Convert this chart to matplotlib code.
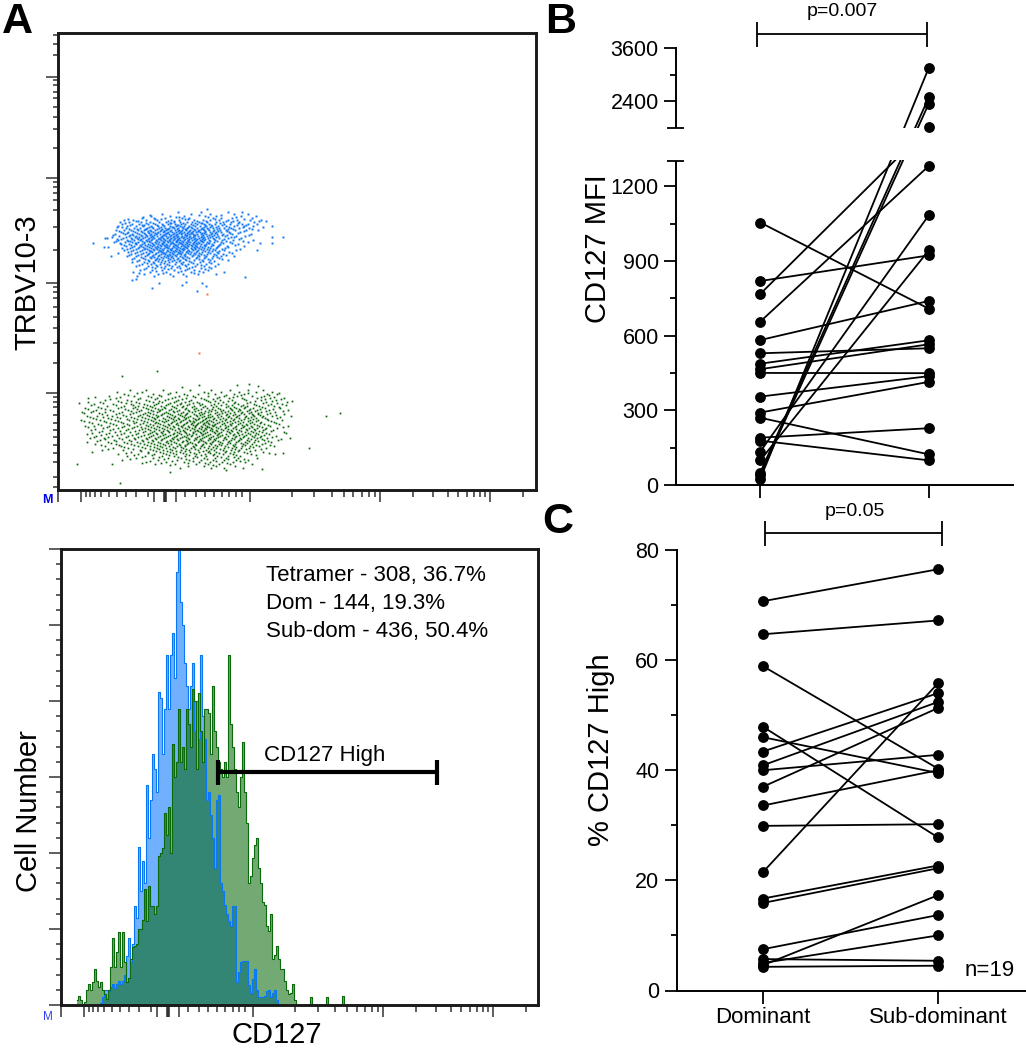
import numpy as np
import matplotlib
matplotlib.use('Agg')
import matplotlib.pyplot as plt
from matplotlib.lines import Line2D

plt.rcParams['font.family'] = ['Liberation Sans', 'DejaVu Sans']

W, H = 1026, 1050

# flow plot, cells: {y channel: [x channels]}
blue_rows = {
    278: [120, 143, 170],
    276: [104, 133, 152, 176, 190],
    275: [92, 141, 163],
    274: [93, 112, 126, 147, 158, 183, 198],
    273: [85, 118, 121, 150, 178],
    272: [84, 96, 107, 124, 131, 155, 163, 174, 194],
    271: [70, 97, 103, 127, 130, 157, 186],
    270: [66, 75, 88, 99, 113, 121, 136, 145, 152, 161, 170, 179, 192, 203],
    269: [78, 80, 110, 116, 139, 148, 168, 175, 201],
    268: [62, 71, 83, 92, 101, 108, 116, 122, 129, 134, 141, 149, 158, 165, 173, 181, 196],
    267: [67, 88, 95, 112, 113, 125, 137, 143, 144, 162, 180],
    266: [64, 74, 81, 90, 97, 104, 110, 117, 123, 127, 133, 139, 146, 151, 157, 166, 172, 184, 190, 199],
    265: [72, 84, 86, 99, 105, 119, 120, 135, 147, 153, 164, 179, 188],
    264: [60, 69, 78, 85, 93, 100, 106, 112, 118, 122, 126, 131, 137, 142, 148, 154, 160, 168, 176, 186, 195],
    263: [59, 64, 91, 94, 103, 114, 115, 124, 130, 133, 146, 152, 158, 171, 185],
    262: [68, 76, 82, 89, 95, 101, 107, 111, 116, 120, 125, 129, 134, 139, 144, 149, 155, 161, 166, 173, 181, 191],
    261: [71, 79, 87, 88, 99, 104, 109, 110, 119, 127, 128, 136, 143, 145, 150, 159, 170, 175, 194],
    260: [58, 66, 73, 80, 86, 92, 97, 103, 108, 113, 117, 121, 124, 128, 132, 137, 141, 146, 151, 156, 162, 168, 177, 188, 200],
    259: [61, 75, 83, 90, 93, 102, 106, 106, 112, 120, 123, 131, 135, 140, 140, 147, 155, 160, 169, 186],
    258: [63, 70, 77, 84, 90, 95, 100, 105, 110, 114, 118, 122, 126, 130, 134, 138, 142, 147, 152, 158, 163, 171, 182],
    257: [65, 69, 79, 86, 91, 97, 99, 108, 109, 116, 121, 124, 129, 133, 133, 144, 146, 154, 157, 172, 180],
    256: [57, 67, 74, 81, 87, 93, 98, 102, 107, 111, 115, 119, 123, 127, 131, 135, 139, 143, 148, 153, 159, 165, 174, 193],
    255: [55, 72, 75, 83, 88, 92, 96, 105, 106, 113, 118, 118, 127, 129, 136, 137, 145, 151, 156, 164, 169, 191],
    254: [61, 71, 78, 84, 89, 94, 99, 104, 108, 112, 116, 120, 124, 128, 132, 136, 140, 144, 149, 154, 160, 167, 178, 187],
    253: [68, 77, 81, 87, 93, 95, 103, 103, 110, 115, 119, 123, 126, 131, 135, 143, 146, 152, 158, 173, 176],
    252: [65, 73, 79, 85, 91, 96, 101, 105, 109, 113, 117, 121, 125, 129, 133, 137, 141, 145, 150, 155, 161, 170, 183],
    251: [59, 63, 74, 80, 83, 90, 94, 100, 102, 106, 112, 116, 120, 120, 127, 131, 136, 139, 144, 147, 156, 166, 181],
    250: [60, 69, 76, 82, 88, 93, 98, 103, 107, 111, 115, 119, 122, 126, 130, 134, 138, 142, 146, 151, 157, 164, 175, 195],
    249: [70, 72, 84, 89, 91, 99, 105, 109, 112, 118, 119, 124, 130, 130, 137, 143, 144, 152, 159, 168, 185],
    248: [67, 74, 80, 86, 92, 97, 101, 106, 110, 114, 118, 121, 125, 128, 132, 136, 140, 145, 149, 156, 163, 172, 190],
    247: [62, 77, 78, 86, 94, 98, 104, 105, 113, 115, 122, 123, 129, 135, 138, 141, 150, 151, 165, 174],
    246: [63, 71, 78, 84, 90, 95, 100, 104, 108, 112, 116, 120, 124, 127, 131, 135, 139, 143, 148, 154, 162, 180],
    245: [66, 73, 82, 87, 92, 96, 102, 106, 109, 117, 118, 125, 129, 133, 137, 146, 147, 155, 161, 177],
    244: [68, 76, 83, 89, 94, 99, 103, 107, 111, 115, 119, 123, 126, 130, 134, 138, 142, 147, 153, 160, 169, 186],
    243: [74, 81, 85, 91, 97, 100, 108, 109, 116, 120, 127, 128, 136, 139, 144, 150, 159, 170],
    242: [72, 80, 87, 93, 98, 102, 106, 110, 114, 118, 122, 125, 129, 133, 137, 141, 146, 152, 158, 167],
    241: [69, 78, 86, 89, 95, 99, 104, 112, 113, 119, 124, 126, 134, 137, 143, 149, 155, 164, 182],
    240: [66, 75, 84, 91, 96, 101, 105, 109, 113, 117, 121, 125, 130, 135, 140, 145, 151, 157, 166, 178],
    239: [73, 82, 92, 93, 102, 103, 110, 115, 118, 122, 129, 131, 139, 147, 154, 161],
    238: [70, 79, 88, 94, 100, 104, 108, 112, 116, 120, 124, 128, 133, 138, 144, 150, 159, 171],
    237: [77, 85, 91, 98, 105, 106, 114, 121, 122, 130, 136, 141, 152, 160, 174],
    236: [73, 83, 90, 97, 103, 107, 111, 115, 119, 123, 127, 132, 137, 143, 149, 156, 165],
    235: [71, 80, 89, 95, 101, 109, 112, 117, 126, 135, 140, 146, 158, 168],
    234: [69, 78, 87, 94, 100, 106, 110, 114, 118, 122, 127, 134, 141, 148, 155, 163, 176],
    233: [83, 92, 96, 103, 108, 113, 124, 129, 139, 147, 159],
    232: [76, 85, 93, 99, 105, 110, 115, 120, 125, 131, 138, 146, 154, 161],
    231: [74, 87, 98, 101, 112, 119, 127, 141, 150, 164],
    230: [81, 90, 97, 104, 110, 116, 122, 128, 136, 144, 152, 170],
    229: [79, 91, 100, 107, 114, 121, 131, 145, 156],
    228: [74, 86, 95, 103, 111, 118, 125, 133, 142, 151],
    227: [89, 96, 106, 123, 135, 153],
    226: [84, 93, 102, 109, 117, 124, 130, 139, 148, 160],
    225: [81, 98, 111, 127, 143],
    224: [78, 90, 99, 107, 114, 121, 128, 137, 146, 157],
    223: [94, 103, 119, 134, 151],
    222: [88, 97, 106, 113, 122, 131, 143, 153],
    221: [86, 110, 129, 147],
    220: [82, 94, 104, 116, 127, 136, 150],
    219: [98, 123, 141],
    218: [75, 92, 108, 120, 133, 145, 166],
    217: [81, 105, 136],
    216: [86, 100, 112, 125, 140, 158],
    214: [79, 96, 115, 128],
}
blue_out_x = [35, 47, 49, 54, 46, 50, 53, 56, 58, 60, 64, 225, 214, 214, 208, 214, 205, 202, 199, 187, 184, 149, 74, 78, 94, 101, 124, 128, 139, 144, 148]
blue_out_y = [247, 252, 252, 253, 243, 243, 234, 248, 249, 237, 242, 253, 253, 247, 269, 264, 263, 247, 240, 213, 278, 281, 210, 211, 202, 207, 205, 208, 199, 207, 204]

green_rows = {
    100: [72, 105, 132, 153, 172, 190, 205],
    98: [84, 118, 146, 163, 181, 198, 214],
    97: [79, 112, 150, 190],
    96: [66, 95, 110, 126, 140, 157, 176, 186, 209, 219],
    95: [70, 101, 129, 168, 183, 211],
    94: [76, 90, 103, 121, 135, 150, 166, 179, 194, 206],
    93: [62, 93, 117, 137, 161, 175, 203, 216],
    92: [58, 82, 99, 114, 128, 143, 159, 171, 184, 199, 212, 226],
    91: [52, 80, 97, 110, 124, 146, 155, 186, 207, 223],
    90: [47, 69, 88, 107, 120, 133, 148, 162, 174, 188, 203, 218],
    89: [60, 73, 91, 101, 118, 131, 150, 157, 170, 197, 214],
    88: [42, 63, 78, 95, 104, 116, 127, 139, 152, 165, 177, 192, 208, 229],
    87: [45, 68, 81, 100, 112, 123, 135, 141, 160, 176, 189, 205, 219],
    86: [36, 55, 73, 86, 98, 110, 122, 131, 144, 156, 168, 180, 196, 213, 224],
    85: [33, 58, 75, 89, 96, 108, 119, 129, 142, 153, 163, 174, 185, 198, 210, 228],
    84: [49, 66, 80, 92, 103, 114, 125, 136, 147, 158, 170, 183, 189, 201, 216],
    83: [40, 63, 77, 85, 94, 106, 116, 124, 134, 145, 155, 168, 176, 187, 204, 221],
    82: [27, 43, 60, 75, 88, 97, 107, 118, 128, 138, 149, 160, 172, 178, 186, 195, 207, 222],
    81: [30, 47, 67, 79, 90, 100, 104, 113, 127, 136, 143, 154, 162, 173, 181, 192, 202, 215],
    80: [38, 52, 70, 83, 93, 102, 111, 121, 130, 140, 151, 157, 165, 174, 182, 191, 199, 211, 230],
    79: [35, 55, 73, 81, 95, 101, 115, 119, 131, 137, 147, 153, 163, 170, 180, 189, 197, 208, 225],
    78: [24, 33, 47, 64, 78, 90, 99, 108, 116, 125, 134, 143, 150, 159, 167, 176, 184, 193, 203, 217],
    77: [26, 41, 61, 75, 87, 92, 106, 110, 123, 129, 141, 146, 157, 164, 172, 183, 191, 200, 212],
    76: [44, 58, 72, 85, 95, 104, 112, 120, 128, 136, 144, 152, 161, 169, 177, 186, 194, 200, 209, 226],
    75: [49, 65, 82, 89, 98, 103, 114, 122, 127, 138, 142, 150, 159, 168, 175, 181, 195, 202, 218],
    74: [29, 39, 54, 68, 80, 91, 100, 109, 117, 124, 132, 139, 146, 154, 163, 171, 179, 188, 196, 205, 214, 233],
    73: [32, 45, 59, 73, 84, 94, 99, 111, 116, 126, 130, 144, 150, 152, 160, 170, 178, 187, 193, 204, 222],
    72: [35, 50, 62, 76, 87, 96, 105, 113, 120, 128, 135, 141, 148, 156, 165, 173, 181, 190, 198, 207, 219],
    71: [38, 53, 69, 79, 90, 97, 107, 115, 121, 127, 137, 140, 147, 155, 162, 168, 176, 186, 195, 209],
    70: [23, 42, 57, 71, 83, 93, 101, 110, 118, 125, 131, 138, 145, 151, 158, 167, 175, 183, 192, 200, 210, 224],
    69: [26, 46, 60, 75, 86, 95, 104, 108, 116, 123, 132, 135, 144, 149, 153, 164, 172, 180, 190, 198, 213],
    68: [31, 48, 63, 78, 89, 98, 106, 114, 122, 129, 136, 142, 148, 155, 161, 169, 177, 185, 194, 203, 216],
    67: [34, 52, 65, 76, 85, 97, 100, 113, 119, 128, 134, 140, 146, 150, 159, 166, 174, 182, 192, 202, 218],
    66: [40, 55, 69, 82, 92, 102, 110, 118, 126, 133, 139, 145, 151, 157, 164, 172, 180, 188, 196, 206, 221],
    65: [43, 58, 71, 88, 95, 105, 111, 120, 125, 135, 138, 147, 154, 156, 167, 173, 184, 189, 199, 210],
    64: [27, 36, 51, 66, 79, 90, 99, 107, 115, 123, 130, 137, 143, 149, 155, 162, 170, 178, 186, 193, 201, 212, 230],
    63: [30, 49, 64, 76, 83, 93, 101, 109, 116, 124, 131, 137, 144, 149, 151, 158, 168, 177, 185, 194, 204, 225],
    62: [45, 60, 74, 87, 96, 104, 112, 120, 127, 134, 141, 147, 153, 160, 167, 175, 183, 191, 199, 208, 219],
    61: [37, 55, 70, 84, 90, 98, 106, 114, 121, 129, 136, 143, 148, 154, 163, 170, 178, 188, 196, 207],
    60: [33, 52, 68, 81, 92, 101, 109, 117, 125, 132, 139, 146, 152, 158, 165, 173, 181, 189, 197, 205, 215],
    59: [44, 62, 77, 87, 96, 105, 110, 122, 126, 137, 140, 145, 154, 159, 169, 174, 183, 193, 201, 213],
    58: [41, 57, 72, 85, 94, 103, 111, 119, 127, 135, 142, 149, 156, 163, 171, 179, 187, 195, 204, 226],
    57: [34, 51, 66, 80, 92, 98, 104, 116, 121, 128, 135, 143, 147, 157, 161, 172, 180, 190, 198, 208, 228],
    56: [29, 48, 63, 78, 90, 99, 107, 115, 123, 131, 138, 145, 152, 160, 168, 176, 184, 192, 200, 211],
    55: [43, 59, 74, 86, 95, 105, 112, 119, 129, 134, 144, 150, 159, 164, 175, 181, 188, 197, 206],
    54: [38, 54, 70, 83, 93, 102, 110, 118, 126, 133, 141, 148, 155, 162, 170, 178, 186, 194, 203, 218],
    53: [36, 50, 68, 80, 91, 100, 108, 116, 124, 128, 139, 146, 153, 160, 167, 177, 185, 196, 202, 214],
    52: [32, 46, 61, 76, 88, 97, 106, 114, 122, 130, 137, 144, 151, 158, 166, 174, 182, 190, 199, 209],
    51: [47, 64, 77, 89, 98, 104, 115, 119, 131, 138, 142, 152, 156, 168, 176, 183, 193, 204, 223],
    50: [42, 56, 71, 84, 94, 103, 112, 120, 128, 136, 143, 150, 157, 165, 173, 181, 189, 197, 206, 220],
    49: [39, 58, 73, 85, 95, 109, 113, 125, 129, 141, 145, 155, 160, 171, 180, 191, 200, 210],
    48: [50, 66, 79, 90, 100, 108, 116, 124, 132, 140, 147, 154, 162, 170, 178, 187, 196, 213],
    47: [53, 69, 82, 93, 102, 110, 118, 130, 134, 148, 152, 164, 172, 183, 189, 207],
    46: [37, 58, 73, 86, 96, 105, 113, 121, 129, 137, 145, 153, 161, 169, 177, 185, 194, 204],
    45: [43, 61, 76, 89, 99, 107, 122, 127, 138, 144, 157, 163, 175, 187, 198, 212],
    44: [47, 63, 80, 92, 102, 111, 119, 127, 135, 143, 151, 159, 167, 176, 184, 192, 201, 216],
    43: [66, 84, 96, 104, 115, 123, 136, 146, 155, 170, 178, 195],
    42: [55, 70, 87, 99, 108, 117, 125, 133, 142, 150, 158, 166, 174, 183, 191, 208],
    41: [50, 75, 92, 101, 112, 128, 137, 153, 162, 177, 188, 203],
    40: [44, 65, 82, 95, 105, 114, 123, 131, 140, 148, 156, 165, 173, 181, 197],
    39: [83, 98, 109, 118, 127, 145, 151, 168, 180, 192],
    38: [73, 90, 102, 112, 122, 132, 141, 150, 158, 167, 176, 186, 205],
    37: [68, 90, 105, 115, 125, 136, 152, 161, 172, 189, 211],
    36: [60, 80, 96, 108, 118, 128, 138, 147, 156, 165, 175, 193, 217],
    35: [76, 94, 111, 131, 143, 155, 178, 198],
    34: [69, 87, 104, 116, 127, 137, 148, 159, 170, 182],
    33: [84, 101, 120, 139, 163, 176],
    32: [78, 95, 110, 123, 135, 146, 157, 168, 180, 199],
    31: [72, 106, 128, 149, 170, 186],
    30: [64, 100, 119, 131, 143, 155, 166, 178, 190],
    29: [92, 114, 135, 158, 182],
    28: [88, 108, 126, 141, 152, 164, 175, 187],
    27: [103, 130, 147, 169],
    26: [97, 117, 138, 150, 161, 172, 194],
    25: [112, 155],
    24: [130, 146, 158, 177],
    22: [122, 153, 166, 185],
}
green_out_x = [64, 99, 19, 62, 251, 268, 282, 21, 30, 30, 37, 51, 59, 88, 124, 141, 179, 191, 200, 221, 234, 34, 29, 54, 84, 112, 168, 204, 225, 232]
green_out_y = [114, 119, 26, 7, 42, 74, 77, 87, 92, 88, 93, 94, 98, 100, 103, 105, 105, 106, 104, 97, 89, 38, 48, 26, 27, 18, 20, 21, 37, 52]

orange_x = [149, 141]
orange_y = [196, 137]

# cytometer tick channels, same on both x axes
x_long = [0, 23, 96.4, 107.4, 117.8, 191.8, 321.6, 432]
x_short = [27.5, 31.7, 36.8, 43, 51, 58.5, 67.8, 77.5, 89.5, 126.7, 137.7, 147, 155.6, 163.6, 171.5, 178.4, 184,
           233.5, 256.5, 273.8, 285.8, 295.5, 303.7, 310.6, 316.8, 355.4, 374.7, 389.8, 400, 409, 416, 421.8, 427, 465]
y_long = [97, 207, 312, 413]
y_short = [3, 13, 28, 37, 45, 53, 60, 67, 75, 83, 88, 93, 127, 147, 162, 173, 183, 192, 198, 203, 240, 263, 280, 290,
           297, 303, 308, 342, 361, 373, 383, 392, 398, 405, 410, 435, 446, 455]

# histogram, counts per 2-channel bin
blue_start = 38
blue_counts = [0, 0.1, 0.5, 1.0, 1.0, 0.9, 1.2, 1.4, 1.1, 1.4, 1.6, 1.4, 1.6, 2.0, 3.2, 4.4, 2.8, 4.0, 6.5, 5.7, 10.4,
               7.5, 9.5, 8.0, 14.5, 11.0, 13.5, 16.5, 15.5, 14.0, 20.6, 20.2, 16.5, 19.5, 23, 19.5, 23, 24.5, 21.5,
               28.5, 30, 26.5, 25, 22.5, 21.0, 19.5, 21, 22.5, 18.0, 20, 17.5, 23, 19, 17.5, 13.5, 14, 12.5, 11, 9,
               13.5, 13.8, 8.0, 7.5, 6.6, 6.0, 5.5, 5.2, 6.5, 6.5, 1.5, 2.2, 2.8, 2.9, 2.9, 2.9, 1.3, 0.8, 1.7, 2.4,
               1.0, 0.5, 0.5, 0.5, 0.6, 0.9, 1.0, 0.5, 0.8, 1.0, 0.3, 0]
green_start = 16
green_counts = [0.3, 0.6, 0.3, 0, 0.2, 1.0, 1.4, 1.0, 1.5, 2.4, 1.6, 1.2, 1.5, 1.0, 0.7, 0.4, 1.0, 2.5, 4.4, 2.5, 3.5,
                4.8, 2.5, 4.8, 2.8, 1.5, 1.8, 3.0, 3.8, 3.9, 4.0, 5, 5.0, 5.6, 7.6, 5.5, 7.8, 6.5, 6.5, 6, 6.5, 9.8,
                10, 10.3, 12.6, 11.2, 13, 10, 17.2, 15, 16, 19.5, 16, 17, 15.5, 19.5, 18.5, 17, 20.8, 20, 15.5, 20.5,
                18, 16, 19.5, 19.5, 19.2, 16.5, 21, 18, 17, 16, 15.5, 15, 16, 15, 23, 18.5, 17, 15.5, 14, 13, 15,
                17.3, 14, 12, 8, 8.5, 9.7, 10.5, 11, 9, 8, 6.8, 6.6, 5.2, 4.9, 6, 3, 3.3, 3.9, 3, 2.4, 2.4, 1.6, 1,
                0.7, 0.8, 1.4, 0.3, 0, 0, 0, 0, 0, 0, 0, 0.5, 0, 0, 0, 0, 0, 0, 0, 0.5, 0, 0, 0, 0, 0, 0, 0, 0.6, 0]
hist_ticks_long = [0, 5, 10, 15, 20, 25, 30]
hist_ticks_short = [1, 2, 3, 4, 6, 7, 8, 9, 11, 12, 13, 14, 16, 17, 18, 19, 21, 22, 23, 24, 26, 27, 28, 29]
gate_x = [157, 375.6]
gate_y = 15.3
stats_lines = ['Tetramer - 308, 36.7%', 'Dom - 144, 19.3%', 'Sub-dom - 436, 50.4%']

# panel B, paired values
mfi_dom = [1054, 819, 767, 656, 582, 529, 487, 465, 450, 355, 291, 270, 190, 178, 134, 99, 50, 40, 25]
mfi_sub = [708, 922, 1831, 1281, 739, 549, 581, 565, 449, 437, 414, 123, 228, 99, 1083, 942, 2489, 2349, 3149]

# panel C, paired values
pct_dom = [70.7, 64.7, 58.9, 47.9, 46, 43.4, 40.9, 40, 37, 33.6, 29.9, 21.5, 16.7, 15.9, 7.5, 5.7, 5, 4.6, 4.3]
pct_sub = [76.5, 67.2, 40.3, 27.8, 39.5, 54, 52.4, 42.8, 51.3, 40, 30.2, 55.8, 22.7, 22.2, 13.7, 5.4, 10, 17.3, 4.5]
groups = ['Dominant', 'Sub-dominant']


def px_axes(left, right, top, bottom):
    return fig.add_axes([left / W, 1 - bottom / H, (right - left) / W, (bottom - top) / H])


def px_line(xs, ys, lw=1.3, color='black'):
    fig.add_artist(Line2D([x / W for x in xs], [1 - y / H for y in ys], lw=lw, color=color,
                          transform=fig.transFigure, solid_capstyle='butt'))


def px_text(x, y, s, **kw):
    kw.setdefault('ha', 'center')
    kw.setdefault('va', 'center')
    fig.text(x / W, 1 - y / H, s, **kw)


def flow_axes(ax):
    for sp in ax.spines.values():
        sp.set_linewidth(2.1)
        sp.set_color('#1a1a1a')
    ax.set_xticks(x_long)
    ax.set_xticks(x_short, minor=True)
    ax.tick_params(axis='x', which='major', length=8.6, width=1.1, color='#333333', labelbottom=False)
    ax.tick_params(axis='x', which='minor', length=5, width=1.1, color='#333333')
    t = ax.xaxis.get_major_ticks()[x_long.index(107.4)]
    t.tick1line.set_markeredgewidth(2.6)
    t.tick1line.set_color('black')


def rows_to_xy(rows):
    xs = [x for y in rows for x in rows[y]]
    ys = [y for y in rows for x in rows[y]]
    return xs, ys


fig = plt.figure(figsize=(W / 100, H / 100), dpi=100)

# A, dot plot
ax = px_axes(58, 536, 33, 490)
flow_axes(ax)
ax.set_xlim(0, 478)
ax.set_ylim(0, 457)
ax.set_yticks(y_long)
ax.set_yticks(y_short, minor=True)
ax.tick_params(axis='y', which='major', length=8.3, width=1.1, color='#333333', labelleft=False)
ax.tick_params(axis='y', which='minor', length=3.6, width=1.1, color='#333333')
bx, by = rows_to_xy(blue_rows)
gx, gy = rows_to_xy(green_rows)
ax.plot(bx + blue_out_x, by + blue_out_y, 's', ms=1.4, mew=0, color='#1177f5')
ax.plot(gx + green_out_x, gy + green_out_y, 's', ms=1.25, mew=0, color='#0a640a')
ax.plot(orange_x, orange_y, 's', ms=1.4, mew=0, color='#ff6a30')

# A, histogram
ax = px_axes(61, 538, 549, 1005)
flow_axes(ax)
ax.set_xlim(0, 477)
ax.set_ylim(0, 30)
ax.set_yticks(hist_ticks_long)
ax.set_yticks(hist_ticks_short, minor=True)
ax.tick_params(axis='y', which='major', length=8.3, width=1.1, color='#333333', labelleft=False)
ax.tick_params(axis='y', which='minor', length=3.6, width=1.1, color='#333333')
bin_x = blue_start + 2 * np.arange(len(blue_counts))
ax.fill_between(bin_x, blue_counts, step='mid', color='#70b0ff', lw=0)
ax.step(bin_x, blue_counts, where='mid', color='#0a78f5', lw=0.8)
bin_x = green_start + 2 * np.arange(len(green_counts))
ax.fill_between(bin_x, green_counts, step='mid', color='#006400', alpha=0.55, lw=0)
ax.step(bin_x, green_counts, where='mid', color='#0b6a0b', lw=0.8)
ax.plot(gate_x, [gate_y, gate_y], color='black', lw=3, solid_capstyle='butt')
for gx_end in gate_x:
    ax.plot([gx_end, gx_end], [gate_y - 0.85, gate_y + 0.85], color='black', lw=3, solid_capstyle='butt')

for (line, py) in zip(stats_lines, [576, 604, 631]):
    px_text(266, py, line, ha='left', fontsize=16)
px_text(264, 756, 'CD127 High', ha='left', fontsize=16)
px_text(277, 1043, 'CD127', va='baseline', fontsize=21)
px_text(27, 282, 'TRBV10-3', fontsize=21, rotation=90)
px_text(29, 811, 'Cell Number', fontsize=21, rotation=90)
px_text(47, 500, 'M', fontsize=9, color='#0000ee', fontweight='bold')
px_text(48, 1017, 'M', fontsize=8.5, color='#3344ee')


# B, broken y axis: the lines run straight on screen across the gap
gap_val = [0, 1305, 1800, 3600]
gap_pos = [0, 325, 356.7, 437.3]


def fwd(v):
    return np.interp(v, gap_val, gap_pos)


def inv(p):
    return np.interp(p, gap_pos, gap_val)


ax = px_axes(676, 1013, 47.7, 485)
ax.set_yscale('function', functions=(fwd, inv))
ax.set_xlim(-0.5, 1.5)
ax.set_ylim(0, 3600)
for d, s in zip(mfi_dom, mfi_sub):
    ax.plot([0, 1], [d, s], color='black', lw=1.3, zorder=2)
ax.axhspan(1305, 1800, color='white', lw=0, zorder=2.5)
ax.plot(np.zeros(len(mfi_dom)), mfi_dom, 'o', ms=7.8, mew=0, color='black', zorder=3, clip_on=False)
ax.plot(np.ones(len(mfi_sub)), mfi_sub, 'o', ms=7.8, mew=0, color='black', zorder=3, clip_on=False)
for sp in ['top', 'right', 'left']:
    ax.spines[sp].set_visible(False)
ax.spines['bottom'].set_linewidth(1.4)
ax.set_yticks([0, 300, 600, 900, 1200, 2400, 3600])
ax.set_yticklabels(['0', '300', '600', '900', '1200', '2400', '3600'])
ax.set_yticks([150, 450, 750, 1050, 3000], minor=True)
ax.set_xticks([0, 1])
ax.set_xticklabels(['', ''])
ax.tick_params(axis='both', which='major', length=9, width=1.3, labelsize=15.5, pad=3.5)
ax.tick_params(axis='both', which='minor', length=4.5, width=1.3)
px_line([676, 676], [160.7, 485], lw=1.4)
px_line([676, 676], [47, 128.3], lw=1.4)
px_line([667, 684], [128.3, 128.3])
px_line([667, 684], [160.7, 160.7])
px_text(598, 249, 'CD127 MFI', fontsize=21, rotation=90)
px_line([757, 927], [33.5, 33.5])
px_line([757, 757], [21.5, 47])
px_line([927, 927], [21.5, 47])
px_text(842, 11, 'p=0.007', fontsize=14)

# C
ax = px_axes(676.7, 1026, 550, 990.5)
ax.set_xlim(-0.493, 1.503)
ax.set_ylim(0, 80)
for d, s in zip(pct_dom, pct_sub):
    ax.plot([0, 1], [d, s], color='black', lw=1.3, zorder=2)
ax.plot(np.zeros(len(pct_dom)), pct_dom, 'o', ms=7.8, mew=0, color='black', zorder=3, clip_on=False)
ax.plot(np.ones(len(pct_sub)), pct_sub, 'o', ms=7.8, mew=0, color='black', zorder=3, clip_on=False)
for sp in ['top', 'right']:
    ax.spines[sp].set_visible(False)
ax.spines['left'].set_linewidth(1.4)
ax.spines['bottom'].set_linewidth(1.4)
ax.set_yticks([0, 20, 40, 60, 80])
ax.set_yticks([10, 30, 50, 70], minor=True)
ax.set_xticks([0, 1])
ax.set_xticklabels(groups)
ax.tick_params(axis='y', which='major', length=9, width=1.3, labelsize=15.5, pad=3.5)
ax.tick_params(axis='y', which='minor', length=4.5, width=1.3)
ax.tick_params(axis='x', which='major', length=9, width=1.3, labelsize=16, pad=3)
px_text(601, 750, '% CD127 High', fontsize=21, rotation=90)
px_line([765, 942], [533, 533])
px_line([765, 765], [521, 546])
px_line([942, 942], [521, 546])
px_text(855, 512, 'p=0.05', fontsize=14)
px_text(990, 970, 'n=19', fontsize=16)

# panel letters
px_text(2, 33, 'A', ha='left', va='baseline', fontsize=31, fontweight='bold')
px_text(545, 33, 'B', ha='left', va='baseline', fontsize=31, fontweight='bold')
px_text(542, 533, 'C', ha='left', va='baseline', fontsize=31, fontweight='bold')

fig.savefig('out.png', dpi=100)
